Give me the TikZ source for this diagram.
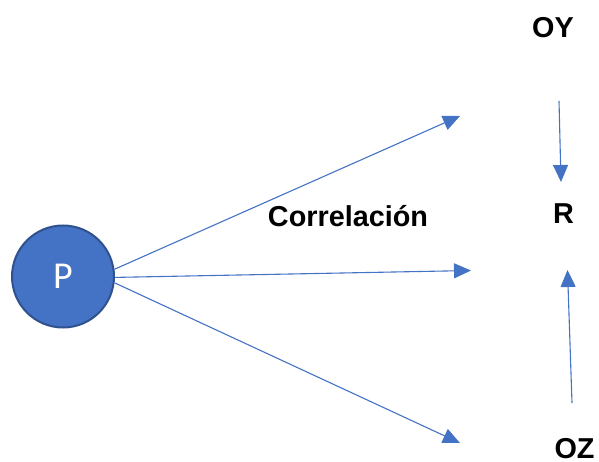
\documentclass[tikz,border=0pt]{standalone}
\usepackage{fontspec}
\setmainfont{Liberation Sans}
\newfontfamily\calibfont{Carlito}
\usetikzlibrary{arrows.meta}
\definecolor{accblue}{HTML}{4472C4}
\definecolor{accdark}{HTML}{2F528F}
\tikzset{
  conn/.style={draw=accblue, line width=1.1pt, -{Triangle[length=17pt,width=15pt]}, fill=none},
  lbl/.style={font=\bfseries\fontsize{28.8}{30}\selectfont, anchor=base, inner sep=0pt},
  circ/.style={circle, fill=accblue, draw=accdark, line width=2pt, minimum size=102pt, inner sep=0pt,
    text=white, font=\calibfont\fontsize{38}{40}\selectfont}
}
\begin{document}
\begin{tikzpicture}[x=1pt,y=-1pt]
\useasboundingbox (0,0) rectangle (599,462);
\node[circ] (P) at (63,276.5) {P};
\node[lbl] (corr) at (348,226) {Correlación};
\node[lbl] (OY) at (553,38) {OY};
\node[lbl] (R) at (563.5,224) {R};
\node[lbl] (OZ) at (574.5,458) {OZ};
\coordinate (t1) at (460,116);
\coordinate (t2) at (471,270.5);
\coordinate (t3) at (460,443);
\coordinate (ys) at (559,101);
\coordinate (yt) at (561,182);
\coordinate (zs) at (572,403);
\coordinate (zt) at (567.5,270);
\draw[conn] (P.8) -- (t1);
\draw[conn] (P.-1.5) -- (t2);
\draw[conn] (P.-7) -- (t3);
\draw[conn] (ys) -- (yt);
\draw[conn] (zs) -- (zt);
\end{tikzpicture}
\end{document}
